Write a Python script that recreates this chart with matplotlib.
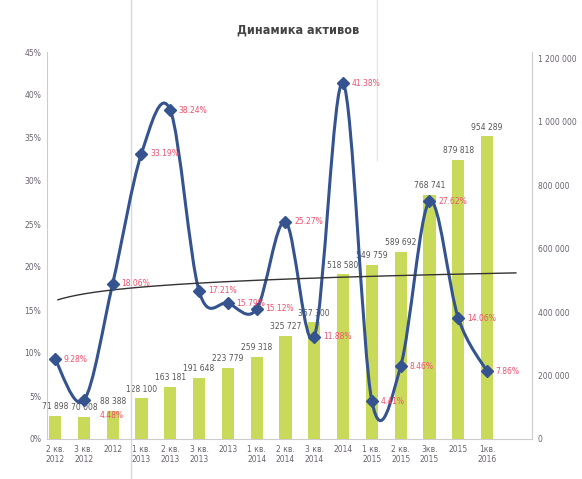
import numpy as np
import matplotlib.pyplot as plt
from matplotlib.path import Path
from matplotlib.patches import PathPatch

# Данные
periods = ['2 кв.\n2012', '3 кв.\n2012', '2012', '1 кв.\n2013', '2 кв.\n2013', '3 кв.\n2013',
           '2013', '1 кв.\n2014', '2 кв.\n2014', '3 кв.\n2014', '2014', '1 кв.\n2015',
           '2 кв.\n2015', '3кв.\n2015', '2015', '1кв.\n2016']
assets = [71898, 70008, 88388, 128100, 163181, 191648, 223779, 259318, 325727, 367300,
          518580, 549759, 589692, 768741, 879818, 954289]
growth = [9.28, 4.48, 18.06, 33.19, 38.24, 17.21, 15.79, 15.12, 25.27, 11.88,
          41.38, 4.41, 8.46, 27.62, 14.06, 7.86]

bar_color = '#c9da5a'
line_color = '#34538f'
lab_color = '#f0506e'
txt_color = '#6a6270'

fig = plt.figure(figsize=(5.82, 4.79), dpi=100)
# оси: 0% на y=439 px, 45% на y=52 px
ax = fig.add_axes([47/582, 1-439/479, (532-47)/582, (439-52)/479])
ax2 = ax.twinx()
ax.set_zorder(2)
ax.patch.set_visible(False)

x = np.arange(len(periods))
ax2.bar(x, assets, width=0.42, color=bar_color, zorder=1)
for xi, v in zip(x, assets):
    s = f'{v:,}'.replace(',', ' ')
    ax2.text(xi, v + 15000, s, ha='center', va='bottom', fontsize=5.5, color='#555555')
ax2.set_ylim(0, 1220000)
ax2.set_yticks(np.arange(0, 1200001, 200000))
ax2.set_yticklabels([f'{t:,}'.replace(',', ' ') for t in range(0, 1200001, 200000)],
                    fontsize=5.5, color=txt_color)

# сглаженная линия (кривые Безье через точки)
y = np.array(growth) / 100
pts = np.column_stack([x, y])
ext = np.vstack([pts[0], pts, pts[-1]])
verts = [tuple(pts[0])]
codes = [Path.MOVETO]
for i in range(len(pts) - 1):
    p0, p1, p2, p3 = ext[i], ext[i+1], ext[i+2], ext[i+3]
    c1 = p1 + (p2 - p0) / 6
    c2 = p2 - (p3 - p1) / 6
    verts += [tuple(c1), tuple(c2), tuple(p2)]
    codes += [Path.CURVE4] * 3
ax.add_patch(PathPatch(Path(verts, codes), fill=False, ec=line_color, lw=2.2, zorder=3))
ax.plot(x, y, ls='none', marker='D', ms=6, color=line_color, zorder=4)
for i, (xi, yi, g) in enumerate(zip(x, y, growth)):
    dx, dy = (0.55, -0.018) if i == 1 else (0.3, 0)
    ax.text(xi + dx, yi + dy, f'{g:.2f}%', fontsize=5.5, color=lab_color,
            va='center', zorder=5)

# логарифмический тренд
b, a = np.polyfit(np.log(x + 1), y, 1)
xt = np.linspace(0.1, 16.0, 200)
ax.plot(xt, a + b * np.log(xt + 1), color='#333333', lw=1.0, zorder=3)

ax.set_ylim(0, 0.45)
ax.set_yticks(np.arange(0, 0.451, 0.05))
ax.set_yticklabels([f'{int(round(t*100))}%' for t in np.arange(0, 0.451, 0.05)],
                   fontsize=5.5, color=txt_color)
ax.set_xlim(-0.28, 16.56)
ax.set_xticks(x)
ax.set_xticklabels(periods, fontsize=5.5, color=txt_color)

for a_ in (ax, ax2):
    a_.spines['top'].set_visible(False)
    a_.tick_params(length=0, pad=4)
ax.spines['left'].set_color('#cccccc')
ax.spines['right'].set_visible(False)
ax2.spines['left'].set_visible(False)
ax2.spines['right'].set_color('#cccccc')
ax.spines['bottom'].set_color('#cccccc')
ax2.spines['bottom'].set_visible(False)

# серые вертикальные линии скана
fig.add_artist(plt.Line2D([131/582, 131/582], [0, 1], color='#d8d8d8', lw=1))
fig.add_artist(plt.Line2D([377/582, 377/582], [1 - 160/479, 1], color='#e6e6e6', lw=1))

fig.text(298/582, 1 - 30/479, 'Динамика активов', ha='center', va='center',
         fontsize=9, fontweight='bold', color='#444444', fontstretch='condensed')

fig.savefig('out.png', dpi=100)
